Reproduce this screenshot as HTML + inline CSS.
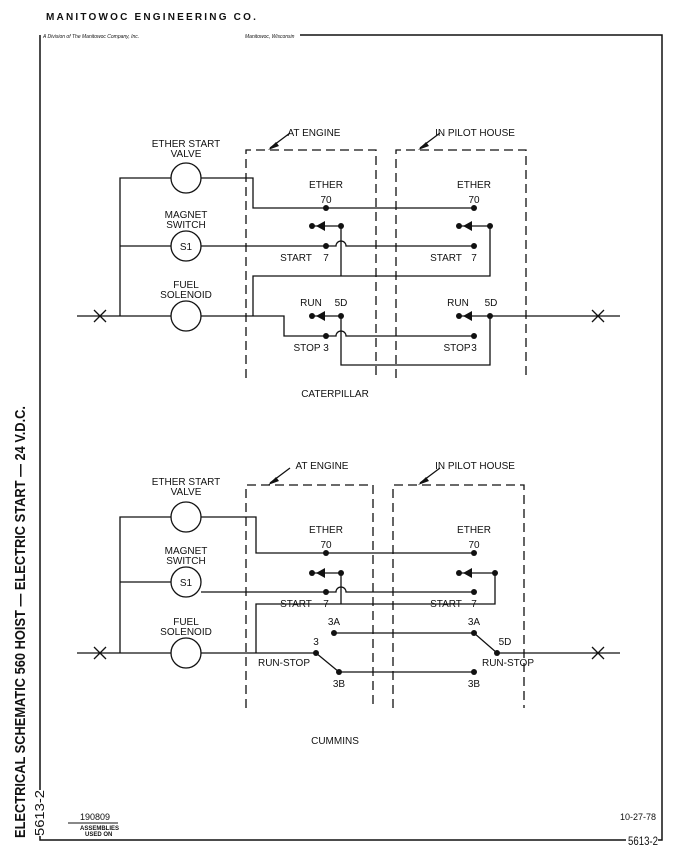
<!DOCTYPE html>
<html><head><style>
html,body{margin:0;padding:0;background:#fff}
svg{display:block}
text{font-family:"Liberation Sans Narrow","Liberation Sans",sans-serif;fill:#111}
</style></head><body>
<svg width="679" height="866" viewBox="0 0 679 866" xmlns="http://www.w3.org/2000/svg">
<g stroke="#111" fill="none" stroke-width="1.3">
<path d="M300 35 H662 V838 M40 35 V790 M40 836 V840 H626 M662 836 V840 H658" stroke-width="1.5"/>
</g>
<text x="46" y="20" font-family="Liberation Sans" font-weight="bold" font-size="10" letter-spacing="2.2" style="font-family:'Liberation Sans',sans-serif">MANITOWOC ENGINEERING CO.</text>
<text x="43" y="38" font-size="5" font-style="italic">A Division of The Manitowoc Company, Inc.</text>
<text x="245" y="38" font-size="5" font-style="italic">Manitowoc, Wisconsin</text>
<text transform="translate(25,838) rotate(-90)" font-weight="bold" font-size="15" textLength="432" lengthAdjust="spacingAndGlyphs">ELECTRICAL SCHEMATIC 560 HOIST — ELECTRIC START — 24 V.D.C.</text>
<text transform="translate(44,836) rotate(-90)" font-size="13" textLength="46" lengthAdjust="spacingAndGlyphs">5613-2</text>
<text x="628" y="845" font-size="12" textLength="30" lengthAdjust="spacingAndGlyphs">5613-2</text>
<text x="620" y="820" font-size="9">10-27-78</text>
<text x="80" y="820" font-size="9">190809</text>
<line x1="68" y1="823" x2="118" y2="823" stroke="#111"/>
<text x="80" y="830" font-size="6" font-weight="bold">ASSEMBLIES</text>
<text x="85" y="836" font-size="6" font-weight="bold">USED ON</text>

<g id="top">
<g stroke="#111" fill="none" stroke-width="1.3">
<circle cx="186" cy="178" r="15"/><circle cx="186" cy="246" r="15"/><circle cx="186" cy="316" r="15"/>
<path d="M77 316 H171 M120 316 V178 H171 M120 246 H171"/>
<path d="M94 310 L106 322 M106 310 L94 322 M592 310 L604 322 M604 310 L592 322"/>
<path d="M201 178 H253 V208 H474"/>
<path d="M201 246 H336 A5 5 0 0 1 346 246 H474"/>
<path d="M312 226 H341 M341 226 V276 M253 316 V276 H490 V226 M459 226 H490"/>
<path d="M201 316 H284 V336 H336 A5 5 0 0 1 346 336 H474"/>
<path d="M312 316 H341 V365 H490 V316 M459 316 H620"/>
<g stroke-dasharray="9 5"><path d="M246 378 V150 H376 V378 M396 378 V150 H526 V378"/></g>
<path d="M270 148 L290 133 M420 148 L440 133"/>
</g>
<g fill="#111">
<circle cx="326" cy="208" r="3"/><circle cx="474" cy="208" r="3"/>
<circle cx="326" cy="246" r="3"/><circle cx="474" cy="246" r="3"/>
<circle cx="312" cy="226" r="3"/><circle cx="341" cy="226" r="3"/><circle cx="459" cy="226" r="3"/><circle cx="490" cy="226" r="3"/>
<path d="M316 226 L325 221 V231Z M463 226 L472 221 V231Z M316 316 L325 311 V321Z M463 316 L472 311 V321Z"/>
<circle cx="312" cy="316" r="3"/><circle cx="341" cy="316" r="3"/><circle cx="459" cy="316" r="3"/><circle cx="490" cy="316" r="3"/>
<circle cx="326" cy="336" r="3"/><circle cx="474" cy="336" r="3"/>
<path d="M268 150 L276 142 L279 146Z M418 150 L426 142 L429 146Z"/>
</g>
<g font-size="10" text-anchor="middle">
<text x="186" y="147">ETHER START</text><text x="186" y="157">VALVE</text>
<text x="186" y="218">MAGNET</text><text x="186" y="228">SWITCH</text>
<text x="186" y="250">S1</text>
<text x="186" y="288">FUEL</text><text x="186" y="298">SOLENOID</text>
<text x="314" y="136">AT ENGINE</text><text x="475" y="136">IN PILOT HOUSE</text>
<text x="326" y="188">ETHER</text><text x="326" y="203">70</text>
<text x="474" y="188">ETHER</text><text x="474" y="203">70</text>
<text x="296" y="261">START</text><text x="326" y="261">7</text>
<text x="446" y="261">START</text><text x="474" y="261">7</text>
<text x="311" y="306">RUN</text><text x="341" y="306">5D</text>
<text x="458" y="306">RUN</text><text x="491" y="306">5D</text>
<text x="307" y="351">STOP</text><text x="326" y="351">3</text>
<text x="457" y="351">STOP</text><text x="474" y="351">3</text>
<text x="335" y="397">CATERPILLAR</text>
</g>
</g>

<g stroke="#111" fill="none" stroke-width="1.3">
<circle cx="186" cy="517" r="15"/><circle cx="186" cy="582" r="15"/><circle cx="186" cy="653" r="15"/>
<path d="M77 653 H171 M120 653 V517 H171 M120 582 H171"/>
<path d="M94 647 L106 659 M106 647 L94 659 M592 647 L604 659 M604 647 L592 659"/>
<path d="M201 517 H256 V553 H474"/>
<path d="M201 592 H336 A5 5 0 0 1 346 592 H474"/>
<path d="M312 573 H341 M341 573 V604 M256 653 V604 H495 V573 M459 573 H495"/>
<path d="M201 653 H316 L339 672 H474 M334 633 H474 L497 653 H620"/>
<g stroke-dasharray="9 5"><path d="M246 708 V485 H373 V708 M393 708 V485 H524 V708"/></g>
<path d="M270 483 L290 468 M420 483 L440 468"/>
</g>
<g fill="#111">
<circle cx="326" cy="553" r="3"/><circle cx="474" cy="553" r="3"/>
<circle cx="326" cy="592" r="3"/><circle cx="474" cy="592" r="3"/>
<circle cx="312" cy="573" r="3"/><circle cx="341" cy="573" r="3"/><circle cx="459" cy="573" r="3"/><circle cx="495" cy="573" r="3"/>
<path d="M316 573 L325 568 V578Z M463 573 L472 568 V578Z"/>
<circle cx="316" cy="653" r="3"/><circle cx="339" cy="672" r="3"/><circle cx="474" cy="672" r="3"/>
<circle cx="334" cy="633" r="3"/><circle cx="474" cy="633" r="3"/><circle cx="497" cy="653" r="3"/>
<path d="M268 485 L276 477 L279 481Z M418 485 L426 477 L429 481Z"/>
</g>
<g font-size="10" text-anchor="middle">
<text x="186" y="485">ETHER START</text><text x="186" y="495">VALVE</text>
<text x="186" y="554">MAGNET</text><text x="186" y="564">SWITCH</text>
<text x="186" y="586">S1</text>
<text x="186" y="625">FUEL</text><text x="186" y="635">SOLENOID</text>
<text x="322" y="469">AT ENGINE</text><text x="475" y="469">IN PILOT HOUSE</text>
<text x="326" y="533">ETHER</text><text x="326" y="548">70</text>
<text x="474" y="533">ETHER</text><text x="474" y="548">70</text>
<text x="296" y="607">START</text><text x="326" y="607">7</text>
<text x="446" y="607">START</text><text x="474" y="607">7</text>
<text x="334" y="625">3A</text><text x="474" y="625">3A</text>
<text x="316" y="645">3</text><text x="505" y="645">5D</text>
<text x="284" y="666">RUN-STOP</text><text x="508" y="666">RUN-STOP</text>
<text x="339" y="687">3B</text><text x="474" y="687">3B</text>
<text x="335" y="744">CUMMINS</text>
</g>
</svg>
</body></html>
